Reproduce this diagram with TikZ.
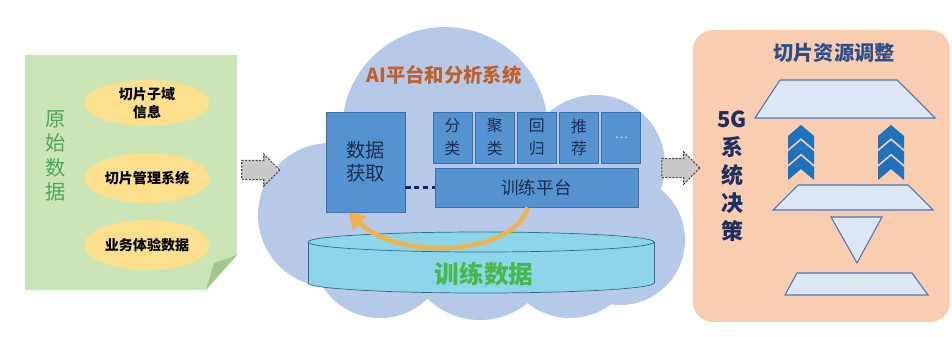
\documentclass[tikz,border=0pt]{standalone}
\usepackage{fontspec}
\setmainfont{Noto Sans CJK SC}
\usepackage{xcolor}
\usepackage{tikz}
\usetikzlibrary{shapes.geometric, shapes.arrows, arrows.meta, positioning}

\definecolor{yemian}{HTML}{CBE5B6}
\definecolor{zhejiao}{HTML}{A3C88F}
\definecolor{lvzi}{HTML}{4EA85A}
\definecolor{huang}{HTML}{FCE08E}
\definecolor{yun}{HTML}{B7C9E8}
\definecolor{lan}{HTML}{5593D0}
\definecolor{lanbian}{HTML}{3D6EA8}
\definecolor{shenlan}{HTML}{1C2E4F}
\definecolor{hui}{HTML}{C9C9C9}
\definecolor{zong}{HTML}{C0612B}
\definecolor{qing}{HTML}{8DD6EA}
\definecolor{qingbian}{HTML}{2D6E86}
\definecolor{lvzi2}{HTML}{47B84A}
\definecolor{juhuang}{HTML}{F0B24A}
\definecolor{cheng}{HTML}{F9CDB0}
\definecolor{biaoti}{HTML}{2F4F8A}
\definecolor{shenzi}{HTML}{1F2F5F}
\definecolor{tilan}{HTML}{DDE6F5}
\definecolor{tibian}{HTML}{4F74B8}
\definecolor{jianlan}{HTML}{1E73BE}

\begin{document}
\begin{tikzpicture}[
    x=0.02cm, y=-0.02cm,
    every node/.style={inner sep=0pt, align=center},
    node distance=0.05cm
  ]
  \tikzset{
    tuoyuan/.style={ellipse, fill=huang, minimum width=2.5cm, minimum height=1cm, font=\fontsize{8}{10}\selectfont\bfseries},
    lanhe/.style={draw=lanbian, fill=lan, text=shenlan, minimum width=0.78cm, minimum height=1.02cm, font=\fontsize{9}{13}\selectfont},
    huijian/.style={single arrow, draw=gray!60!black, line width=0.6pt, dash pattern=on 1.2pt off 0.8pt, fill=hui, minimum height=0.76cm, minimum width=0.62cm, inner sep=0.18cm, single arrow head extend=0.13cm},
    tixing/.style={draw=tibian, fill=tilan, line width=0.6pt},
    jiantou/.style={fill=jianlan},
    xuxian/.style={draw=shenlan!80!blue, line width=1.2pt, dash pattern=on 3pt off 2pt},
    fankui/.style={draw=juhuang, line width=2.6pt, -{Triangle[length=9pt,width=11pt]}}
  }
  \useasboundingbox (0,0) rectangle (952,336);

  \fill[yemian] (25,55) -- (237,55) -- (237,255) -- (206,290) -- (25,290) -- cycle;
  \fill[zhejiao] (237,255) -- (214,263) -- (206,290) -- cycle;
  \node[text=lvzi, font=\fontsize{11.5}{13.8}\selectfont] (yuanshi) at (56,156) {原\\始\\数\\据};
  \node[tuoyuan, minimum height=0.92cm] (ziyu) at (147,103) {切片子域\\信息};
  \node[tuoyuan] (guanli) at (147,178) {切片管理系统};
  \node[tuoyuan] (tiyan) at (147,245) {业务体验数据};

  \fill[yun] (445,130) circle[radius=103] (330,215) circle[radius=72]
    (595,165) circle[radius=70] (620,240) circle[radius=65]
    (380,250) circle[radius=68] (480,245) circle[radius=75]
    (570,250) circle[radius=68];
  \node[text=zong, font=\fontsize{11}{13}\selectfont\bfseries] (aibiaoti) at (444,75) {AI平台和分析系统};

  \node[lanhe, minimum width=1.58cm, minimum height=2cm, font=\fontsize{11}{13}\selectfont] (huoqu) at (365.5,162) {数据\\获取};
  \node[lanhe] (fenlei) at (452.5,137.5) {分\\类};
  \node[lanhe, right=of fenlei] (julei) {聚\\类};
  \node[lanhe, right=of julei] (huigui) {回\\归};
  \node[lanhe, right=of huigui] (tuijian) {推\\荐};
  \node[lanhe, right=of tuijian, text=tilan, font=\fontsize{7}{9}\selectfont] (gengduo) {…};
  \node[lanhe, minimum width=4.06cm, minimum height=0.78cm, font=\fontsize{10}{12}\selectfont] (pingtai) at (536.5,187.5) {训练平台};
  \draw[xuxian] (huoqu.east |- pingtai.west) -- (pingtai.west);

  \filldraw[fill=qing, draw=qingbian] (481,283) ellipse[x radius=173, y radius=10];
  \fill[qing] (308,242) rectangle (654,283);
  \draw[qingbian] (308,242) -- (308,283) (654,242) -- (654,283);
  \filldraw[fill=qing, draw=qingbian] (481,242) ellipse[x radius=173, y radius=10];
  \node[text=lvzi2, font=\fontsize{14}{16}\selectfont\bfseries] (xunlian) at (484,274) {训练数据};
  \draw[fankui] ([xshift=-0.18cm]pingtai.south) .. controls (515,255) and (400,262) .. ([xshift=-0.34cm]huoqu.south);

  \node[fill=cheng, rounded corners=0.4cm, minimum width=5.14cm, minimum height=5.84cm] (tiaozheng) at (821.5,176) {};
  \node[text=biaoti, font=\fontsize{11.5}{13}\selectfont\bfseries] (tzbiaoti) at (834,53) {切片资源调整};
  \node[text=shenzi, font=\fontsize{12.5}{16}\selectfont\bfseries] (juece) at (732,176) {5G\\系\\统\\决\\策};

  \node[huijian] (jian1) at (256,170) {};
  \node[huijian] (jian2) at (676,168) {};

  \draw[tixing] (780,80) -- (897,80) -- (935,118) -- (755,118) -- cycle;
  \draw[tixing] (798,185) -- (908,185) -- (933,210) -- (773,210) -- cycle;
  \draw[tixing] (831,217) -- (882,217) -- (857,263) -- cycle;
  \draw[tixing] (797,273) -- (912,273) -- (928,295) -- (785,295) -- cycle;
  \foreach \cx in {801,891}
    \foreach \cy in {125,140.5,156}
      \fill[jiantou] (\cx,\cy) -- ++(13,11) -- ++(0,13) -- ++(-13,-11) -- ++(-13,11) -- ++(0,-13) -- cycle;
\end{tikzpicture}
\end{document}
